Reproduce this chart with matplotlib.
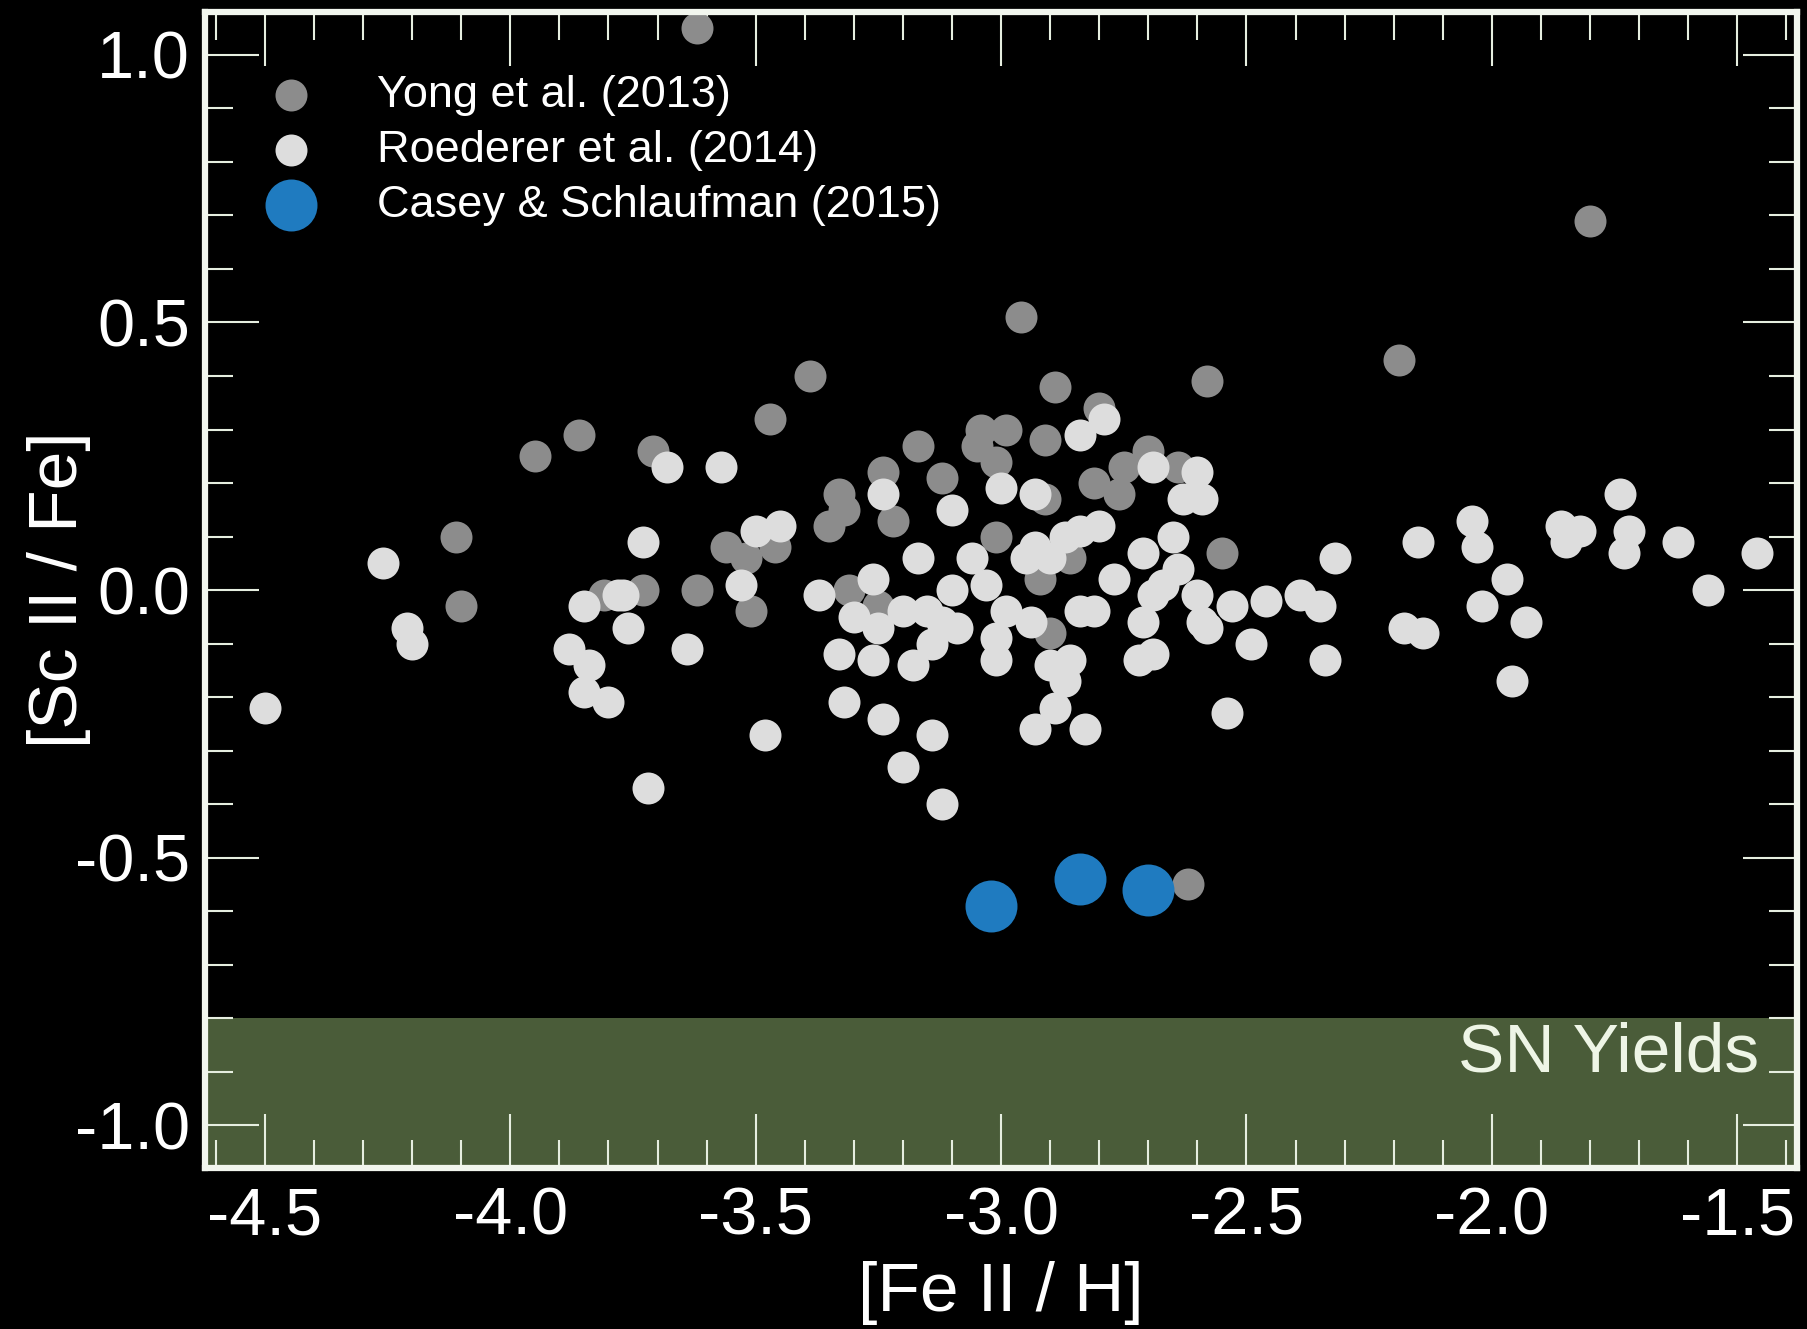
import matplotlib

matplotlib.use("Agg")
import matplotlib.pyplot as plt
from matplotlib.ticker import MultipleLocator, FormatStrFormatter

plt.rcParams["font.family"] = ["Liberation Sans", "DejaVu Sans"]
plt.rcParams["axes.unicode_minus"] = False

# Yong et al. (2013)
yong_feh = [-3.62, -1.80, -2.96, -2.19, -3.39, -2.58, -2.89, -3.47, -3.86, -3.95,
            -3.71, -3.17, -3.04, -2.99, -3.05, -3.01, -3.24, -3.22, -3.12, -3.33,
            -3.32, -3.35, -3.56, -3.52, -3.46, -3.51, -3.73, -3.62, -3.01, -3.31,
            -3.25, -2.80, -2.91, -2.91, -2.81, -2.75, -2.76, -2.70, -2.64, -2.86,
            -2.55, -2.92, -2.90, -4.11, -4.10, -3.81, -2.62]
yong_sc = [1.05, 0.69, 0.51, 0.43, 0.40, 0.39, 0.38, 0.32, 0.29, 0.25,
           0.26, 0.27, 0.30, 0.30, 0.27, 0.24, 0.22, 0.13, 0.21, 0.18,
           0.15, 0.12, 0.08, 0.06, 0.08, -0.04, 0.00, 0.00, 0.10, 0.00,
           -0.03, 0.34, 0.28, 0.17, 0.20, 0.23, 0.18, 0.26, 0.23, 0.06,
           0.07, 0.02, -0.08, 0.10, -0.03, -0.01, -0.55]

# Roederer et al. (2014)
roed_feh = [-4.50, -4.26, -4.21, -4.20, -3.73, -3.85, -3.78, -3.76, -3.88, -3.84,
            -3.85, -3.80, -3.72, -3.77, -3.68, -3.57, -3.24, -3.10, -3.00, -3.50,
            -3.45, -3.53, -3.64, -3.48, -3.17, -3.06, -3.26, -3.37, -3.30, -3.25,
            -3.20, -3.15, -3.10, -3.03, -2.99, -3.12, -3.09, -3.01, -3.14, -3.01,
            -3.18, -3.33, -3.26, -3.32, -3.24, -3.14, -3.20, -3.12, -2.79, -2.84,
            -2.93, -2.69, -2.60, -2.63, -2.59, -2.93, -2.87, -2.80, -2.84, -2.90,
            -2.95, -2.71, -2.65, -2.64, -2.32, -2.77, -2.67, -2.60, -2.84, -2.81,
            -2.94, -2.69, -2.71, -2.59, -2.53, -2.46, -2.39, -2.35, -2.58, -2.49,
            -2.34, -2.72, -2.69, -2.90, -2.86, -2.87, -2.89, -2.93, -2.83, -2.54,
            -2.15, -2.04, -2.03, -1.97, -2.02, -2.18, -2.14, -1.93, -1.96, -1.86,
            -1.82, -1.85, -1.74, -1.72, -1.73, -1.62, -1.56, -1.46]
roed_sc = [-0.22, 0.05, -0.07, -0.10, 0.09, -0.03, -0.01, -0.07, -0.11, -0.14,
           -0.19, -0.21, -0.37, -0.01, 0.23, 0.23, 0.18, 0.15, 0.19, 0.11,
           0.12, 0.01, -0.11, -0.27, 0.06, 0.06, 0.02, -0.01, -0.05, -0.07,
           -0.04, -0.04, 0.00, 0.01, -0.04, -0.06, -0.07, -0.09, -0.10, -0.13,
           -0.14, -0.12, -0.13, -0.21, -0.24, -0.27, -0.33, -0.40, 0.32, 0.29,
           0.18, 0.23, 0.22, 0.17, 0.17, 0.08, 0.10, 0.12, 0.11, 0.06,
           0.06, 0.07, 0.10, 0.04, 0.06, 0.02, 0.01, -0.01, -0.04, -0.04,
           -0.06, -0.01, -0.06, -0.06, -0.03, -0.02, -0.01, -0.03, -0.07, -0.10,
           -0.13, -0.13, -0.12, -0.14, -0.13, -0.17, -0.22, -0.26, -0.26, -0.23,
           0.09, 0.13, 0.08, 0.02, -0.03, -0.07, -0.08, -0.06, -0.17, 0.12,
           0.11, 0.09, 0.18, 0.11, 0.07, 0.09, 0.00, 0.07]

# Casey & Schlaufman (2015)
casey_feh = [-3.02, -2.84, -2.70]
casey_sc = [-0.59, -0.54, -0.56]

SN_TOP = -0.8
XLIM = (-4.621, -1.379)
YLIM = (-1.08, 1.08)

fig = plt.figure(figsize=(18.07, 13.29), dpi=100, facecolor="black")
ax = fig.add_axes([0.1137, 0.1211, 0.8806, 0.8698], facecolor="black")

# theoretical supernova yield region
ax.axhspan(YLIM[0], SN_TOP, color="#4a5c39", zorder=0, linewidth=0)
ax.text(-1.455, -0.90, "SN Yields", color="#eef5e6", fontsize=50,
        ha="right", va="baseline", zorder=1)

ax.scatter(yong_feh, yong_sc, s=530, color="#8c8c8c", linewidths=0,
           zorder=2, label="Yong et al. (2013)")
ax.scatter(roed_feh, roed_sc, s=530, color="#dddddd", linewidths=0,
           zorder=3, label="Roederer et al. (2014)")
ax.scatter(casey_feh, casey_sc, s=1400, color="#1f7bc0", linewidths=0,
           zorder=4, label="Casey & Schlaufman (2015)")

ax.set_xlim(*XLIM)
ax.set_ylim(*YLIM)
ax.xaxis.set_major_locator(MultipleLocator(0.5))
ax.xaxis.set_minor_locator(MultipleLocator(0.1))
ax.yaxis.set_major_locator(MultipleLocator(0.5))
ax.yaxis.set_minor_locator(MultipleLocator(0.1))
ax.xaxis.set_major_formatter(FormatStrFormatter("%.1f"))
ax.yaxis.set_major_formatter(FormatStrFormatter("%.1f"))

ax.tick_params(which="both", direction="in", top=True, right=True,
               color="#e6eee0", labelcolor="white", labelsize=48, width=1.5)
ax.tick_params(which="major", length=39)
ax.tick_params(which="minor", length=20)
ax.tick_params(axis="x", which="major", pad=13)
ax.tick_params(axis="y", which="major", pad=11)

for sp in ax.spines.values():
    sp.set_color("#f2f6ee")
    sp.set_linewidth(4.5)
    sp.set_zorder(5)

ax.set_xlabel("[Fe II / H]", color="white", fontsize=50)
ax.set_ylabel("[Sc II / Fe]", color="white", fontsize=50)
ax.xaxis.set_label_coords(0.5, -0.080)
ax.yaxis.set_label_coords(-0.072, 0.5)

ax.legend(loc="upper left", bbox_to_anchor=(0.0395, 0.946), frameon=False,
          fontsize=32.5, labelcolor="white", handlelength=1.0,
          handletextpad=1.40, labelspacing=0.31, borderpad=0,
          borderaxespad=0, scatterpoints=1)

fig.savefig("out.png", dpi=100, facecolor="black")
